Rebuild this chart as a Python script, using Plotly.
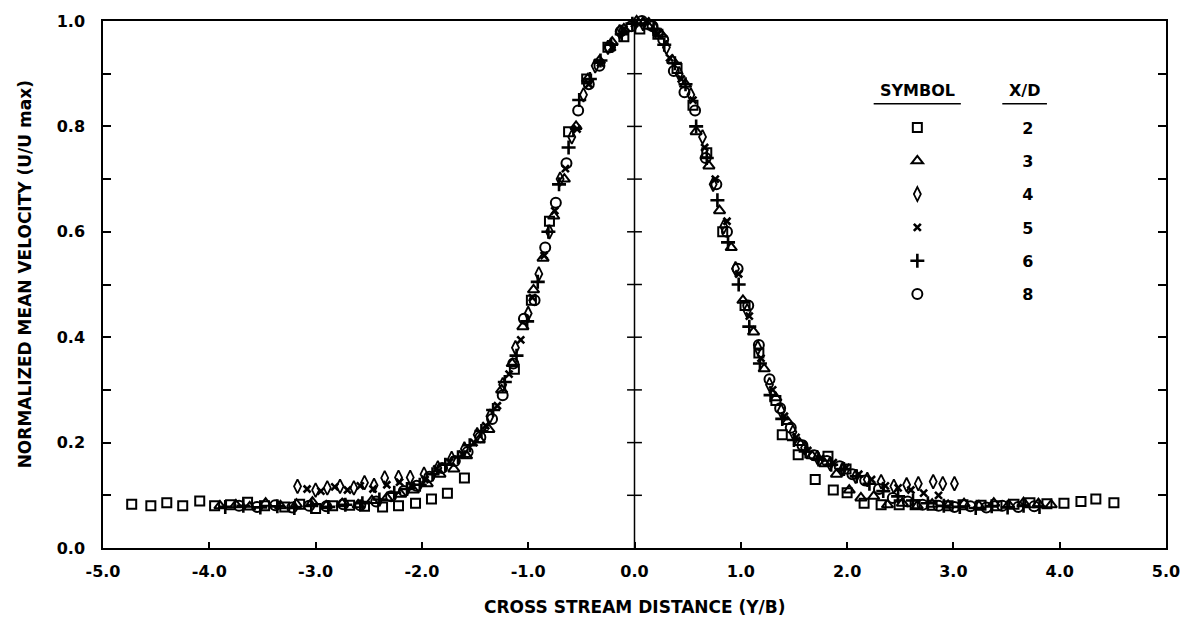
import plotly.graph_objects as go

# ---------------- data ----------------
x_tickvals = [-5, -4, -3, -2, -1, 0, 1, 2, 3, 4, 5]
x_ticktext = ["-5.0", "-4.0", "-3.0", "-2.0", "-1.0", "0.0", "1.0", "2.0", "3.0", "4.0", "5.0"]
y_tickvals = [0.0, 0.2, 0.4, 0.6, 0.8, 1.0]
y_ticktext = ["0.0", "0.2", "0.4", "0.6", "0.8", "1.0"]
y_minor = [0.1, 0.3, 0.5, 0.7, 0.9]
center_ticks = [0.1, 0.2, 0.3, 0.4, 0.5, 0.6, 0.7, 0.8, 0.9]

# X/D = 2 (squares)
x2 = [-4.73, -4.55, -4.40, -4.25, -4.09, -3.95, -3.80, -3.64, -3.48, -3.29,
      -3.15, -3.00, -2.84, -2.68, -2.54, -2.37, -2.22, -2.06, -1.91, -1.76,
      -1.60, -1.13, -0.97, -0.80, -0.62, -0.45, -0.25, -0.10, 0.05, 0.22,
      0.40, 0.55, 0.68, 0.83, 1.04, 1.17, 1.33, 1.39, 1.54, 1.70,
      1.82, 1.87, 1.99, 2.00, 2.16, 2.32, 2.49, 2.64, 2.80, 2.95,
      3.09, 3.26, 3.41, 3.57, 3.72, 3.88, 4.04, 4.20, 4.34, 4.51]
y2 = [0.083, 0.080, 0.086, 0.080, 0.089, 0.080, 0.082, 0.087, 0.080, 0.078,
      0.083, 0.075, 0.080, 0.081, 0.079, 0.078, 0.080, 0.085, 0.093, 0.104,
      0.133, 0.339, 0.470, 0.620, 0.790, 0.890, 0.950, 0.970, 0.985, 0.975,
      0.910, 0.840, 0.750, 0.600, 0.460, 0.370, 0.280, 0.215, 0.177, 0.130,
      0.174, 0.110, 0.150, 0.105, 0.085, 0.082, 0.082, 0.082, 0.081, 0.080,
      0.082, 0.081, 0.080, 0.083, 0.086, 0.084, 0.085, 0.088, 0.093, 0.086]

# X/D = 3 (triangles)
x3 = [-3.90, -3.75, -3.62, -3.47, -3.33, -3.18, -3.03, -2.90, -2.75, -2.60,
      -2.47, -2.33, -2.20, -2.08, -1.95, -1.83, -1.70, -1.58, -1.46, -1.37,
      -1.25, -1.15, -1.05, -0.95, -0.86, -0.76, -0.66, -0.55, -0.44, -0.33,
      -0.21, -0.10, 0.02, 0.13, 0.25, 0.36, 0.48, 0.58, 0.70, 0.80,
      0.91, 1.02, 1.12, 1.22, 1.33, 1.44, 1.55, 1.67, 1.79, 1.90,
      2.02, 2.13, 2.25, 2.38, 2.52, 2.66, 2.80, 2.95, 3.10, 3.24,
      3.38, 3.52, 3.66, 3.80, 3.92]
y3 = [0.080, 0.082, 0.078, 0.085, 0.080, 0.083, 0.087, 0.080, 0.084, 0.082,
      0.090, 0.095, 0.102, 0.110, 0.122, 0.140, 0.150, 0.175, 0.205, 0.225,
      0.300, 0.350, 0.420, 0.490, 0.550, 0.630, 0.700, 0.800, 0.890, 0.925,
      0.960, 0.985, 1.000, 0.990, 0.975, 0.925, 0.880, 0.790, 0.725, 0.640,
      0.570, 0.470, 0.410, 0.340, 0.285, 0.240, 0.200, 0.175, 0.160, 0.140,
      0.110, 0.095, 0.098, 0.082, 0.085, 0.080, 0.083, 0.081, 0.084, 0.080,
      0.085, 0.082, 0.086, 0.084, 0.082]

# X/D = 4 (diamonds)
x4 = [-3.17, -3.00, -2.89, -2.77, -2.64, -2.54, -2.45, -2.35, -2.22, -2.11,
      -1.98, -1.85, -1.72, -1.60, -1.48, -1.36, -1.24, -1.12, -1.00, -0.90,
      -0.80, -0.70, -0.59, -0.48, -0.37, -0.25, -0.14, -0.03, 0.08, 0.19,
      0.30, 0.42, 0.53, 0.64, 0.74, 0.84, 0.95, 1.06, 1.16, 1.27,
      1.38, 1.49, 1.60, 1.72, 1.84, 1.96, 2.08, 2.19, 2.32, 2.44,
      2.56, 2.67, 2.81, 2.90, 3.01]
y4 = [0.117, 0.110, 0.114, 0.117, 0.114, 0.124, 0.119, 0.133, 0.134, 0.134,
      0.140, 0.152, 0.170, 0.188, 0.215, 0.250, 0.310, 0.380, 0.445, 0.520,
      0.600, 0.700, 0.780, 0.860, 0.915, 0.950, 0.980, 1.005, 0.995, 0.985,
      0.950, 0.900, 0.860, 0.780, 0.690, 0.610, 0.530, 0.450, 0.380, 0.310,
      0.260, 0.220, 0.190, 0.172, 0.160, 0.150, 0.136, 0.130, 0.126, 0.117,
      0.120, 0.122, 0.126, 0.122, 0.122]

# X/D = 5 (crosses x)
x5 = [-3.08, -2.95, -2.82, -2.70, -2.58, -2.46, -2.33, -2.21, -2.10, -1.97,
      -1.86, -1.74, -1.62, -1.51, -1.40, -1.29, -1.18, -1.07, -0.96, -0.85,
      -0.75, -0.65, -0.54, -0.43, -0.32, -0.21, -0.10, 0.00, 0.11, 0.22,
      0.33, 0.44, 0.55, 0.66, 0.76, 0.87, 0.98, 1.08, 1.19, 1.30,
      1.41, 1.52, 1.63, 1.75, 1.87, 1.99, 2.11, 2.23, 2.36, 2.48,
      2.60, 2.72, 2.86]
y5 = [0.112, 0.108, 0.116, 0.110, 0.118, 0.112, 0.120, 0.125, 0.118, 0.130,
      0.150, 0.163, 0.178, 0.200, 0.232, 0.270, 0.330, 0.395, 0.475, 0.555,
      0.640, 0.720, 0.795, 0.880, 0.920, 0.950, 0.985, 0.995, 1.000, 0.975,
      0.930, 0.890, 0.850, 0.760, 0.700, 0.620, 0.520, 0.440, 0.360, 0.300,
      0.250, 0.210, 0.185, 0.170, 0.162, 0.153, 0.140, 0.130, 0.118, 0.114,
      0.110, 0.104, 0.100]

# X/D = 6 (plus)
x6 = [-3.85, -3.68, -3.52, -3.36, -3.20, -3.04, -2.88, -2.72, -2.56, -2.40,
      -2.26, -2.14, -2.02, -1.90, -1.78, -1.66, -1.55, -1.44, -1.33, -1.22,
      -1.11, -1.01, -0.91, -0.81, -0.71, -0.62, -0.52, -0.42, -0.32, -0.22,
      -0.12, -0.02, 0.08, 0.18, 0.28, 0.38, 0.48, 0.58, 0.68, 0.78,
      0.88, 0.98, 1.08, 1.18, 1.28, 1.39, 1.50, 1.61, 1.73, 1.85,
      1.97, 2.09, 2.21, 2.34, 2.48, 2.62, 2.76, 2.91, 3.06, 3.21,
      3.36, 3.51, 3.66, 3.81]
y6 = [0.078, 0.080, 0.077, 0.079, 0.076, 0.080, 0.078, 0.082, 0.085, 0.092,
      0.105, 0.112, 0.120, 0.140, 0.158, 0.172, 0.195, 0.222, 0.262, 0.315,
      0.365, 0.430, 0.505, 0.600, 0.690, 0.760, 0.850, 0.890, 0.925, 0.955,
      0.975, 0.995, 1.005, 0.985, 0.955, 0.920, 0.880, 0.800, 0.740, 0.660,
      0.580, 0.500, 0.420, 0.350, 0.290, 0.245, 0.205, 0.183, 0.168, 0.158,
      0.150, 0.136, 0.122, 0.108, 0.098, 0.090, 0.085, 0.080, 0.078, 0.076,
      0.079, 0.077, 0.080, 0.078]

# X/D = 8 (circles)
x8 = [-3.72, -3.55, -3.38, -3.22, -3.06, -2.90, -2.74, -2.58, -2.43, -2.29,
      -2.17, -2.05, -1.93, -1.81, -1.69, -1.57, -1.45, -1.34, -1.24, -1.14,
      -1.04, -0.94, -0.84, -0.74, -0.64, -0.53, -0.43, -0.33, -0.23, -0.13,
      -0.03, 0.07, 0.17, 0.27, 0.37, 0.47, 0.57, 0.67, 0.77, 0.87,
      0.97, 1.07, 1.17, 1.27, 1.37, 1.47, 1.58, 1.69, 1.81, 1.93,
      2.05, 2.17, 2.30, 2.43, 2.57, 2.71, 2.86, 3.01, 3.16, 3.31,
      3.46, 3.61, 3.76]
y8 = [0.080, 0.078, 0.081, 0.077, 0.080, 0.079, 0.083, 0.081, 0.088, 0.098,
      0.108, 0.118, 0.135, 0.152, 0.165, 0.182, 0.210, 0.245, 0.290, 0.350,
      0.435, 0.470, 0.570, 0.655, 0.730, 0.830, 0.880, 0.915, 0.950, 0.980,
      0.990, 1.000, 0.990, 0.965, 0.905, 0.865, 0.830, 0.740, 0.690, 0.600,
      0.530, 0.460, 0.385, 0.320, 0.265, 0.228, 0.195, 0.176, 0.165, 0.155,
      0.140, 0.128, 0.112, 0.095, 0.088, 0.082, 0.080, 0.078, 0.079, 0.077,
      0.080, 0.078, 0.079]

series_names = ["2", "3", "4", "5", "6", "8"]
series_x = [x2, x3, x4, x5, x6, x8]
series_y = [y2, y3, y4, y5, y6, y8]

# ---------------- styling ----------------
styles = {
    "2": dict(symbol="square-open", size=9, lw=2),
    "3": dict(symbol="triangle-up-open", size=10, lw=2),
    "4": dict(symbol="diamond-tall-open", size=10, lw=1.8),
    "5": dict(symbol="x-thin", size=7, lw=2.6),
    "6": dict(symbol="cross-thin", size=10, lw=2.6),
    "8": dict(symbol="circle-open", size=10, lw=2),
}
FONT = "DejaVu Sans"

fig = go.Figure()
for name, xs, ys in zip(series_names, series_x, series_y):
    st = styles[name]
    fig.add_trace(go.Scatter(
        x=xs, y=ys, mode="markers", name="<b>" + name + "</b>",
        legendgroup=name,
        marker=dict(symbol=st["symbol"], size=st["size"], color="black",
                    line=dict(color="black", width=st["lw"])),
        cliponaxis=False,
    ))

shapes = [dict(type="line", xref="x", yref="y", x0=0, x1=0, y0=0, y1=1,
               line=dict(color="black", width=1.5))]
for t in center_ticks:
    shapes.append(dict(type="line", xref="x", yref="y", x0=-0.07, x1=0.07, y0=t, y1=t,
                       line=dict(color="black", width=1.5)))
# legend header underlines
shapes.append(dict(type="line", xref="paper", yref="paper", x0=0.725, x1=0.807, y0=0.843, y1=0.843,
                   line=dict(color="black", width=1.5)))
shapes.append(dict(type="line", xref="paper", yref="paper", x0=0.846, x1=0.888, y0=0.843, y1=0.843,
                   line=dict(color="black", width=1.5)))

annotations = [
    dict(text="<b>CROSS STREAM DISTANCE (Y/B)</b>", xref="paper", yref="paper", x=0.5, y=-0.112,
         showarrow=False, font=dict(family=FONT, size=17, color="black"), xanchor="center", yanchor="middle"),
    dict(text="<b>NORMALIZED MEAN VELOCITY (U/U max)</b>", xref="paper", yref="paper", x=-0.073, y=0.52,
         textangle=-90, showarrow=False, font=dict(family=FONT, size=17, color="black"),
         xanchor="center", yanchor="middle"),
    dict(text="<b>SYMBOL</b>", xref="paper", yref="paper", x=0.766, y=0.868, showarrow=False,
         font=dict(family=FONT, size=16, color="black"), xanchor="center", yanchor="middle"),
    dict(text="<b>X/D</b>", xref="paper", yref="paper", x=0.867, y=0.868, showarrow=False,
         font=dict(family=FONT, size=16, color="black"), xanchor="center", yanchor="middle"),
]

fig.update_layout(
    width=1192, height=619,
    margin=dict(l=103, r=19, t=20, b=71),
    paper_bgcolor="white", plot_bgcolor="white",
    font=dict(family=FONT, color="black"),
    showlegend=True,
    legend=dict(x=0.6673, y=0.83, xanchor="left", yanchor="top",
                itemwidth=200, tracegroupgap=9.5,
                font=dict(family=FONT, size=16, color="black"),
                bgcolor="rgba(0,0,0,0)", borderwidth=0),
    xaxis=dict(range=[-5, 5], tickmode="array", tickvals=x_tickvals, ticktext=x_ticktext,
               ticks="inside", ticklen=6, tickwidth=1.5, tickcolor="black",
               showline=True, linewidth=1.5, linecolor="black", mirror=True,
               showgrid=False, zeroline=False, ticklabelstandoff=8,
               tickfont=dict(family=FONT, size=16, color="black", weight="bold")),
    yaxis=dict(range=[0, 1], tickmode="array", tickvals=y_tickvals, ticktext=y_ticktext,
               ticks="inside", ticklen=8, tickwidth=1.5, tickcolor="black",
               showline=True, linewidth=1.5, linecolor="black", mirror="allticks",
               showgrid=False, zeroline=False, ticklabelstandoff=13,
               minor=dict(tickvals=y_minor, ticks="inside", ticklen=8, tickwidth=1.5,
                          tickcolor="black", showgrid=False),
               tickfont=dict(family=FONT, size=16, color="black", weight="bold")),
    shapes=shapes,
    annotations=annotations,
)

fig.write_html("out.html")
